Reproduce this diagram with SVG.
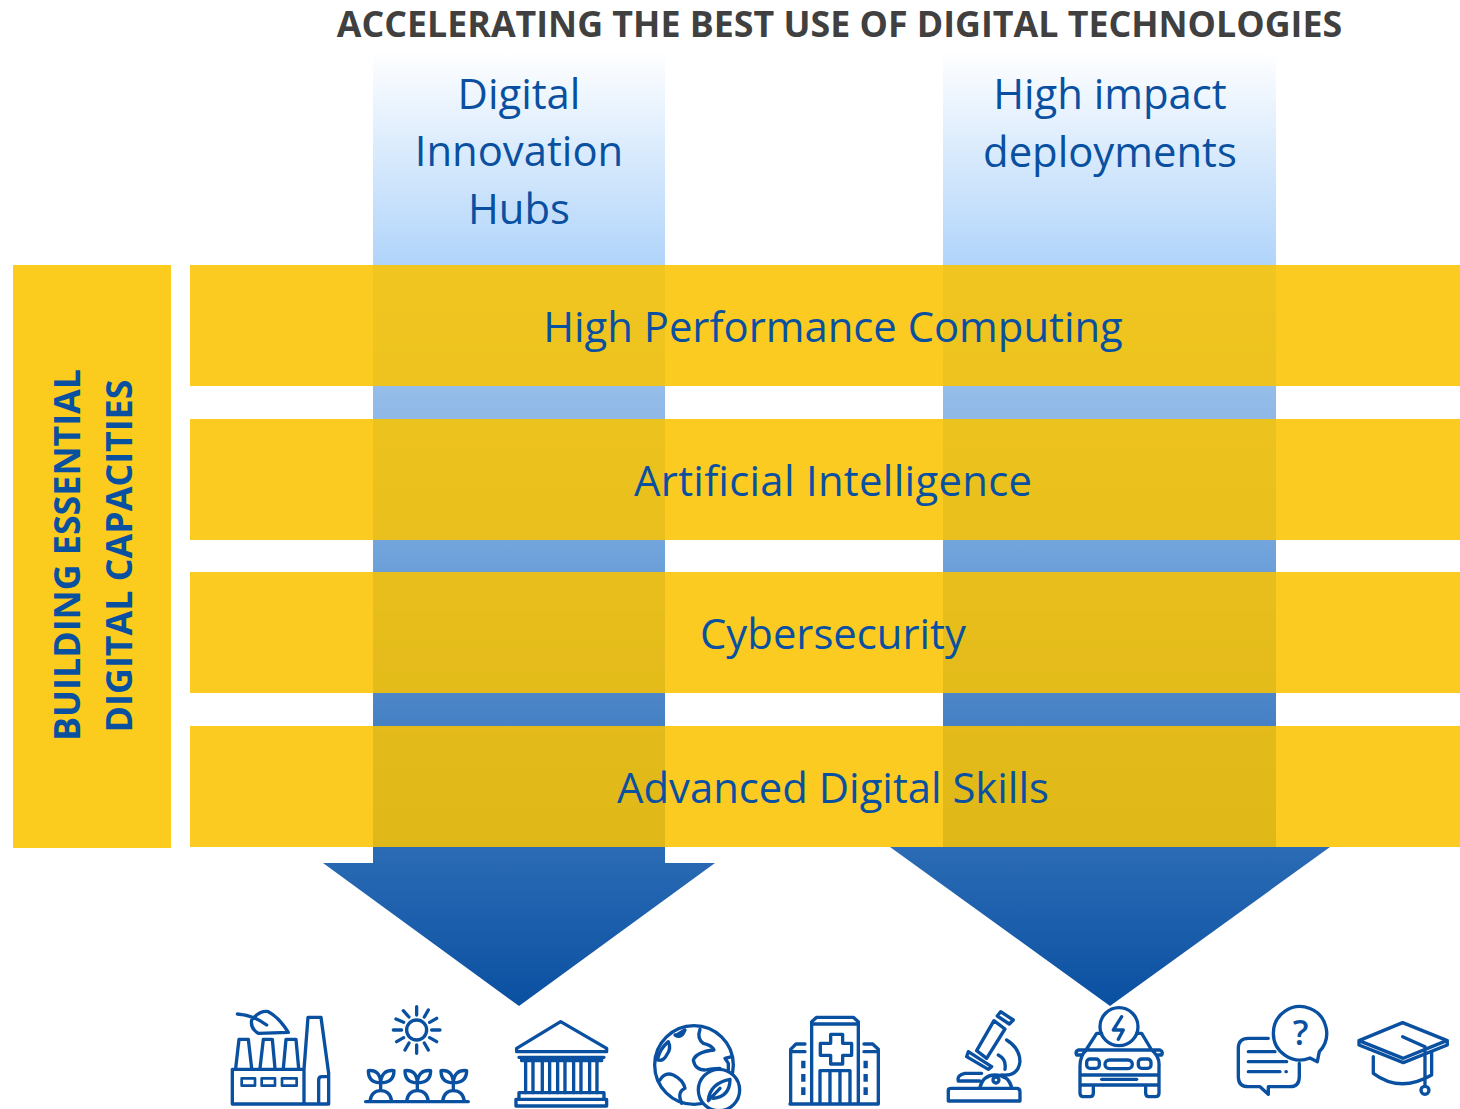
<svg xmlns="http://www.w3.org/2000/svg" xmlns:xlink="http://www.w3.org/1999/xlink" width="1460" height="1109" viewBox="0 0 1460 1109">
<style>
text{font-family:"Open Sans","Noto Sans","Liberation Sans",sans-serif}
.t{fill:#0a50a1;font-size:41.8px;text-anchor:middle}
.band{fill:#fac300;fill-opacity:.87}
.ic{fill:none;stroke:#0a50a1;stroke-width:10;stroke-linejoin:round;stroke-linecap:round}
</style>
<defs>
<linearGradient id="g" gradientUnits="userSpaceOnUse" x1="0" y1="50" x2="0" y2="1006">
<stop offset="0" stop-color="#fff"/><stop offset=".225" stop-color="#b0d4fa"/><stop offset=".36" stop-color="#94bce9"/><stop offset=".52" stop-color="#72a4dc"/><stop offset=".68" stop-color="#4b85c8"/><stop offset="1" stop-color="#0a50a1"/>
</linearGradient>
<g id="sprout"><path d="M450 303Q455 272 482 272Q510 272 515 303M482 272V238M482 248Q445 248 445 212Q480 208 482 248M482 248Q522 248 522 212Q485 208 482 248"/></g>
</defs>
<rect width="1460" height="1109" fill="#fff"/>
<g id="connectors">
<path id="arrow-dih" d="M373 50H665V863H715L519 1006L323 863H373Z" fill="url(#g)"/>
<path id="arrow-hid" d="M943 50H1276V847H1330L1110 1006L890 847H943Z" fill="url(#g)"/>
</g>
<text id="title" x="839.500" y="37" font-size="35.750" font-weight="700" fill="#404040" text-anchor="middle">ACCELERATING THE BEST USE OF DIGITAL TECHNOLOGIES</text>
<g id="node-dih"><text class="t" x="519" y="109">Digital</text><text class="t" x="519" y="166">Innovation</text><text class="t" x="519" y="224">Hubs</text></g>
<g id="node-hid"><text class="t" x="1110" y="109">High impact</text><text class="t" x="1110" y="167">deployments</text></g>
<g id="node-capacities"><rect x="13" y="265" width="158" height="583" fill="#fbcb1e"/>
<text transform="translate(80 555) rotate(-90)" font-size="35.800" font-weight="700" fill="#0a50a1" text-anchor="middle">BUILDING ESSENTIAL</text>
<text transform="translate(132 556) rotate(-90)" font-size="35.800" font-weight="700" fill="#0a50a1" text-anchor="middle">DIGITAL CAPACITIES</text></g>
<g id="node-hpc"><rect class="band" x="190" y="265" width="1270" height="121"/><text class="t" x="833" y="342">High Performance Computing</text></g>
<g id="node-ai"><rect class="band" x="190" y="419" width="1270" height="121"/><text class="t" x="833" y="496" textLength="398">Artificial Intelligence</text></g>
<g id="node-cyber"><rect class="band" x="190" y="572" width="1270" height="121"/><text class="t" x="833" y="649">Cybersecurity</text></g>
<g id="node-skills"><rect class="band" x="190" y="726" width="1270" height="121"/><text class="t" x="833" y="803">Advanced Digital Skills</text></g>
<g class="ic" transform="translate(220 1000) scale(.3333)">
<g id="icon-factory"><path d="M37 208H252V312H37ZM47 205L57 118H85L95 205M120 205L130 118H157L165 205M190 205L198 118H228L236 205M252 208L264 52H303L326 220V312H252M296 312V240Q296 230 306 230H326"/><path stroke-width="8" d="M65 235H105V257H65ZM125 235H165V257H125ZM186 235H230V257H186Z"/><path d="M95 60Q120 30 145 35Q175 50 205 97L115 100Q90 85 95 60ZM52 42Q100 45 140 75"/></g>
<g id="icon-farm"><circle cx="590" cy="90" r="30"/><path d="M590 45V20M590 135V160M635 90H660M545 90H520M629 67L650 55M551 113L530 125M613 51L625 30M567 129L555 150M613 129L625 150M567 51L550 32M629 113L650 125M551 67L528 57M437 305H745"/><use xlink:href="#sprout"/><use xlink:href="#sprout" x="110"/><use xlink:href="#sprout" x="218"/></g>
<g id="icon-bank"><path d="M1022 65L1160 145V155H890V145ZM897 172H1152M905 172V182H1145V172M897 278H1152V298H897ZM888 298H1160V318H888Z"/><path d="M917 182V278M939 182V278M967 182V278M989 182V278M1013 182V278M1035 182V278M1061 182V278M1083 182V278M1109 182V278M1131 182V278"/></g>
</g>
<g class="ic" transform="translate(640 1000) scale(.3333)">
<g id="icon-globe"><circle cx="162" cy="195" r="118"/><path d="M180 88Q170 115 190 130Q215 135 222 150Q170 155 160 180Q165 210 195 210Q215 205 240 205M275 170L255 175L265 190L265 210M110 105L135 90L130 100Q120 115 105 105ZM85 125Q60 145 52 180Q70 185 80 165Q95 145 85 125ZM60 240Q75 215 100 225Q130 240 135 265Q110 275 125 310"/><circle cx="237" cy="270" r="62" fill="#fff"/><path d="M205 300Q210 250 270 238Q270 290 220 295M205 302L240 265"/></g>
<g id="icon-hospital"><path d="M515 312V65L530 52H640L655 65V312M515 72H655M450 312H715M572 103H608V130H635V166H608V192H572V166H541V130H572ZM540 312V212H630V312M570 215V312M600 215V312M495 132H468L452 148V312M452 155H495M672 132H698L715 148V312M672 155H715"/><path stroke-width="13" stroke-linecap="butt" d="M490 182V205M490 222V245M490 262V285M677 182V205M677 222V245M677 262V285"/></g>
<g id="icon-microscope"><path d="M925 270Q925 265 935 265H1130Q1140 265 1140 275V303H925ZM1062 62L1095 87L1040 175L1010 152ZM1082 35L1120 60L1108 72L1072 48ZM985 155L1055 200L1045 208L980 170ZM1100 120Q1140 145 1140 185Q1135 230 1085 225M1075 165Q1100 178 1095 208M1020 262Q1030 225 1065 225Q1105 225 1115 262M1025 220H975Q950 225 955 243H1020"/><circle cx="1068" cy="240" r="9"/></g>
</g>
<g class="ic" transform="translate(1060 1000) scale(.3333)">
<g id="icon-car"><circle cx="177" cy="80" r="57"/><path d="M185 50L160 90H190L175 118M125 100H110L78 150M230 100H245L275 150M80 150H275Q300 170 297 200V255H60V200Q60 165 80 150ZM62 225H295M60 255V280Q60 290 70 290H90Q100 290 100 280V258M257 258V280Q257 290 267 290H287Q297 290 297 280V255M75 150H55Q45 155 50 165H65M280 150H300Q310 155 305 165H292"/><rect x="80" y="177" width="38" height="28" rx="10"/><rect x="135" y="180" width="82" height="26" rx="13"/><rect x="235" y="177" width="38" height="28" rx="10"/><path d="M125 238H230"/></g>
<g id="icon-chat"><path d="M778 155A80 80 0 1 0 750 174L772 185ZM565 155H645M565 185H680M565 215H660M678 215H679M625 115H565Q535 115 535 145V230Q535 260 565 260H600L625 283V260H690Q718 260 718 230V190"/><text x="722" y="134" font-size="104" font-weight="600" fill="#0a50a1" stroke="none" text-anchor="middle">?</text></g>
<g id="icon-cap"><path d="M1028 68L1162 122V135L1030 188L897 135V122ZM897 122L1030 175L1160 122M1028 110L1095 140V258M940 170V220Q1020 280 1115 225V155"/><circle cx="1095" cy="271" r="12"/></g>
</g>
</svg>
